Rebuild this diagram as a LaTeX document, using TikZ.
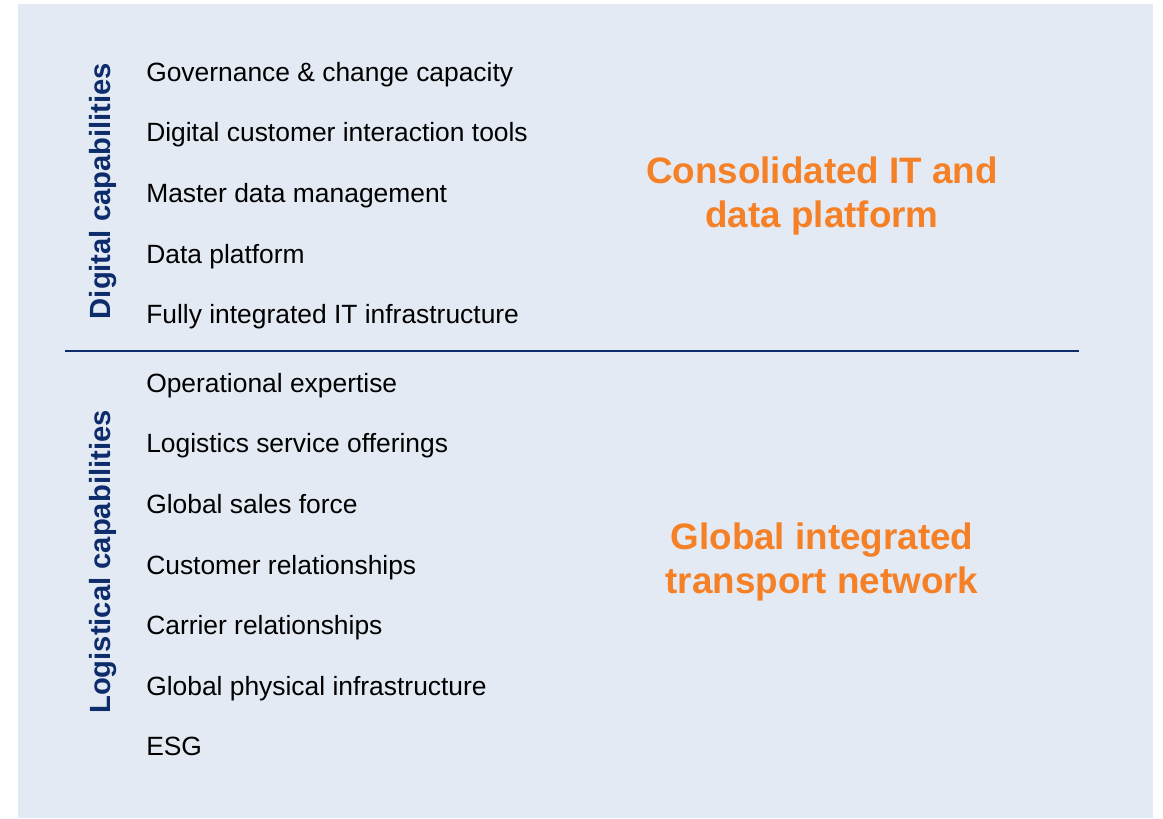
\documentclass[tikz,border=0pt]{standalone}
\usepackage{fontspec}
\setmainfont{Liberation Sans}
\usetikzlibrary{positioning}

\definecolor{panelbg}{HTML}{E4EAF3}
\definecolor{navy}{HTML}{0D2C6C}
\definecolor{accent}{HTML}{F58025}

\begin{document}
\begin{tikzpicture}[
    x=0.75pt, y=-0.75pt,
    item/.style={anchor=base west, inner sep=0pt, font=\fontsize{19.8}{23}\selectfont},
    side/.style={anchor=base, rotate=90, inner sep=0pt, text=navy, font=\bfseries\fontsize{21.9}{26}\selectfont},
    headline/.style={align=center, inner sep=0pt, text=accent, font=\bfseries\fontsize{27.6}{33}\selectfont}
]

% Frame and panel
\useasboundingbox (0,0) rectangle (1163,818);
\fill[panelbg] (18,4) rectangle (1153,818);

% Digital block
\node[side] (digital) at (110,191) {Digital capabilities};
\node[item] (gov) at (146,81) {Governance \& change capacity};
\node[item] (dci) at (146,141) {Digital customer interaction tools};
\node[item] (mdm) at (146,202) {Master data management};
\node[item] (dp) at (146,263) {Data platform};
\node[item] (itinfra) at (146,323) {Fully integrated IT infrastructure};
\node[headline] (itplatform) at (822,196) {Consolidated IT and\\data platform};

% Divider
\coordinate (divl) at (65,351);
\coordinate (divr) at (1079,351);
\draw[navy, line width=1.7pt] (divl) -- (divr);

% Logistical block
\node[side] (logistical) at (110,562) {Logistical capabilities};
\node[item] (opex) at (146,392) {Operational expertise};
\node[item] (lso) at (146,452) {Logistics service offerings};
\node[item] (sales) at (146,513) {Global sales force};
\node[item] (custrel) at (146,574) {Customer relationships};
\node[item] (carrel) at (146,634) {Carrier relationships};
\node[item] (physinfra) at (146,695) {Global physical infrastructure};
\node[item] (esg) at (146,755) {ESG};
\node[headline] (network) at (822,562) {Global integrated\\transport network};

\end{tikzpicture}
\end{document}
